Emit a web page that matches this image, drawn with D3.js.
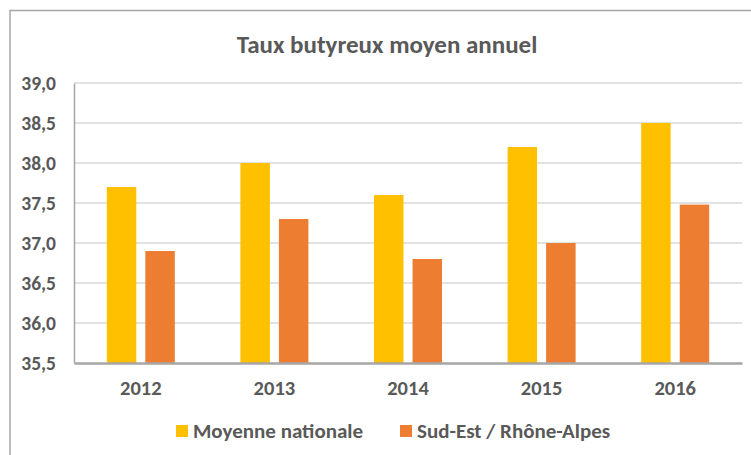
<!DOCTYPE html>
<html>
<head>
<meta charset="utf-8">
<script src="https://cdn.jsdelivr.net/npm/d3@7"></script>
<style>
  body { margin: 0; background: #fff; }
  text { font-family: Carlito, "DejaVu Sans Condensed", "Liberation Sans Narrow", "Open Sans", sans-serif; font-weight: bold; fill: #595959; }
</style>
</head>
<body>
<div id="chart"></div>
<script>
// chart data
var years = ["2012", "2013", "2014", "2015", "2016"];
var nationale = [37.7, 38.0, 37.6, 38.2, 38.5];
var sudEst = [36.9, 37.3, 36.8, 37.0, 37.48];
var seriesNames = ["Moyenne nationale", "Sud-Est / Rhône-Alpes"];
var colors = ["#FFC000", "#ED7D31"];
var yTicks = [35.5, 36.0, 36.5, 37.0, 37.5, 38.0, 38.5, 39.0];

var svgWidth = 751;
var svgHeight = 455;

var margin = { top: 83, right: 9, bottom: 92, left: 74 };
var width = svgWidth - margin.left - margin.right;
var height = svgHeight - margin.top - margin.bottom;

var svg = d3.select("#chart")
  .append("svg")
  .attr("width", svgWidth)
  .attr("height", svgHeight);

// outer frame (only top and left edges are in the picture)
svg.append("path")
  .attr("d", "M10,460 L10,10.5 L760,10.5")
  .attr("fill", "none")
  .attr("stroke", "#a6a6a6")
  .attr("stroke-width", 1.5);

svg.append("text")
  .attr("x", 387)
  .attr("y", 53)
  .attr("text-anchor", "middle")
  .attr("font-size", 25)
  .text("Taux butyreux moyen annuel");

var chartGroup = svg.append("g")
  .attr("transform", `translate(${margin.left}, ${margin.top})`);

var x0 = d3.scaleBand()
  .domain(years)
  .range([0, width]);

var x1 = d3.scaleBand()
  .domain([0, 1])
  .range([x0.bandwidth() / 2 - 34, x0.bandwidth() / 2 + 34])
  .paddingInner(8 / 68 * 2);

var yScale = d3.scaleLinear()
  .domain([35.5, 39.0])
  .range([height, 0]);

// gridlines
chartGroup.append("g")
  .selectAll("line")
  .data(yTicks.slice(1))
  .enter()
  .append("line")
  .attr("x1", 0)
  .attr("x2", width)
  .attr("y1", d => yScale(d))
  .attr("y2", d => yScale(d))
  .attr("stroke", "#d9d9d9")
  .attr("stroke-width", 1.5);

var fmt = d => d3.format(".1f")(d).replace(".", ",");

var leftAxis = d3.axisLeft(yScale)
  .tickValues(yTicks)
  .tickFormat(fmt)
  .tickSize(0)
  .tickPadding(18);

var yAxisG = chartGroup.append("g").call(leftAxis);
yAxisG.select(".domain").attr("stroke", "#a6a6a6").attr("stroke-width", 1.5);
yAxisG.selectAll("text").attr("font-size", 19.5).attr("fill", "#595959").attr("font-family", null);

// bars
var rows = years.map((y, i) => ({ year: y, values: [nationale[i], sudEst[i]] }));

var groups = chartGroup.selectAll(".year")
  .data(rows)
  .enter()
  .append("g")
  .attr("transform", d => `translate(${x0(d.year)},0)`);

groups.selectAll("rect")
  .data(d => d.values.map((v, k) => ({ k: k, v: v })))
  .enter()
  .append("rect")
  .attr("x", d => x1(d.k))
  .attr("width", x1.bandwidth())
  .attr("y", d => yScale(d.v))
  .attr("height", d => height - yScale(d.v))
  .attr("fill", d => colors[d.k]);

var bottomAxis = d3.axisBottom(x0).tickSize(0).tickPadding(17);
var xAxisG = chartGroup.append("g")
  .attr("transform", `translate(0, ${height})`)
  .call(bottomAxis);
xAxisG.select(".domain").attr("stroke", "#a6a6a6").attr("stroke-width", 2.5);
xAxisG.selectAll("text").attr("font-size", 20.5).attr("fill", "#595959").attr("font-family", null);

// legend
var legendX = [176, 400];
var legend = svg.selectAll(".legend")
  .data(seriesNames)
  .enter()
  .append("g")
  .attr("transform", (d, i) => `translate(${legendX[i]}, 425)`);

legend.append("rect")
  .attr("width", 12)
  .attr("height", 12)
  .attr("fill", (d, i) => colors[i]);

legend.append("text")
  .attr("x", 17)
  .attr("y", 13)
  .attr("font-size", 21)
  .text(d => d);
</script>
</body>
</html>
